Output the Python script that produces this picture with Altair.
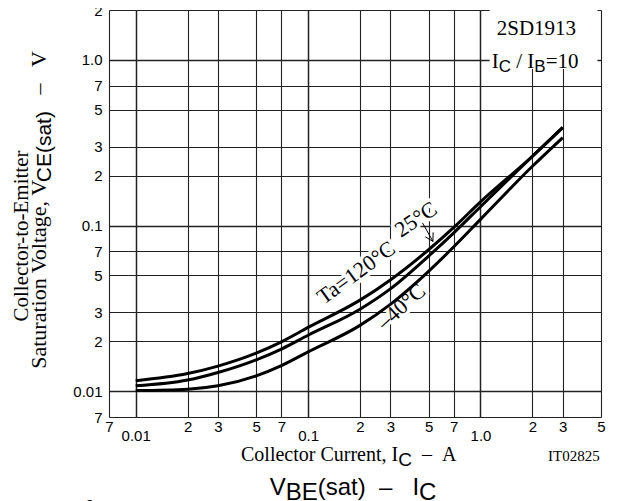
import altair as alt
import pandas as pd

# ---------------- data ----------------
IC = [0.01, 0.02, 0.03, 0.05, 0.07, 0.1, 0.2, 0.3, 0.5, 0.7, 1.0, 2.0, 3.0]
VCE_120 = [0.0116, 0.0128, 0.0142, 0.0170, 0.0199, 0.0243, 0.0355, 0.0470, 0.0715, 0.0975, 0.139, 0.262, 0.390]
VCE_25 = [0.0108, 0.0117, 0.0130, 0.0155, 0.0180, 0.0218, 0.0313, 0.0415, 0.0655, 0.0905, 0.130, 0.262, 0.392]
VCE_M40 = [0.0101, 0.0103, 0.0108, 0.0124, 0.0143, 0.0173, 0.0250, 0.0335, 0.0530, 0.0745, 0.109, 0.228, 0.340]
SERIES = ["120", "25", "-40"]

X_DOMAIN = [0.007, 5]
Y_DOMAIN = [0.007, 2]
X_TICKS = [0.007, 0.01, 0.02, 0.03, 0.05, 0.07, 0.1, 0.2, 0.3, 0.5, 0.7, 1, 2, 3, 5]
X_TICK_LABELS = ["7", "0.01", "2", "3", "5", "7", "0.1", "2", "3", "5", "7", "1.0", "2", "3", "5"]
Y_TICKS = [0.007, 0.01, 0.02, 0.03, 0.05, 0.07, 0.1, 0.2, 0.3, 0.5, 0.7, 1, 2]
Y_TICK_LABELS = ["7", "0.01", "2", "3", "5", "7", "0.1", "2", "3", "5", "7", "1.0", "2"]
DECADE_LABELS = ["0.01", "0.1", "1.0"]

CURVE_LABELS = ["Ta=120°C", "25°C", "–40°C"]
CURVE_LABEL_X = [0.190, 0.422, 0.347]
CURVE_LABEL_Y = [0.0520, 0.1090, 0.0325]
CURVE_LABEL_ANGLE = [324, 326, 318]

ARROW_SEG = ["shaft", "shaft", "b1", "b1", "b2", "b2"]
ARROW_X = [0.461, 0.530, 0.531, 0.530, 0.478, 0.530]
ARROW_Y = [0.1038, 0.0803, 0.0910, 0.0803, 0.0856, 0.0803]

BOX_X = [1.13, 4.77]
BOX_Y = [0.88, 2.0]

SANS = "Liberation Sans, Arial, Helvetica, sans-serif"
SERIF = "Liberation Serif, Times New Roman, serif"
NB = "\u00a0"

TIMES_W = {' ': 250, NB: 250, ',': 250, '-': 333, '–': 500, '/': 278, '=': 564, '(': 333,
           ')': 333, '°': 400, 'A': 722, 'B': 667, 'C': 667, 'D': 722, 'E': 611, 'I': 333,
           'S': 556, 'T': 611, 'V': 722, 'a': 444, 'c': 444, 'e': 444, 'g': 500, 'i': 278,
           'l': 278, 'm': 778, 'n': 500, 'o': 500, 'r': 333, 's': 389, 't': 278, 'u': 500}
ARIAL_W = {' ': 278, NB: 278, '–': 556, '(': 333, ')': 333, 'B': 667, 'C': 722, 'E': 667,
           'I': 278, 'V': 667, 'a': 556, 's': 500, 't': 278}


def text_width(s, font, size):
    table = TIMES_W if font == SERIF else ARIAL_W
    return sum(table.get(ch, 500) for ch in s) * size / 1000.0


def label_expr(ticks, labels, multiline):
    parts = []
    for v, lab in zip(ticks, labels):
        if multiline and lab in DECADE_LABELS:
            txt = "['', '%s']" % lab
        else:
            txt = "'%s'" % lab
        parts.append("datum.value == %r ? %s" % (v, txt))
    return " : ".join(parts) + " : ''"


GRID_W = {"condition": {"test": "datum.value == 0.01 || datum.value == 0.1 || datum.value == 1",
                        "value": 1.5}, "value": 1.1}

X_AXIS = alt.Axis(values=X_TICKS, labelExpr=label_expr(X_TICKS, X_TICK_LABELS, True), title=None,
                  grid=True, gridColor="#222222", gridWidth=GRID_W, ticks=False, domain=False,
                  labelFont=SANS, labelFontSize=15, labelColor="black", labelPadding=2,
                  labelBaseline="top", labelLineHeight=9, labelFlush=False, labelOverlap=False,
                  labelBound=False)
Y_AXIS = alt.Axis(values=Y_TICKS, labelExpr=label_expr(Y_TICKS, Y_TICK_LABELS, False), title=None,
                  grid=True, gridColor="#222222", gridWidth=GRID_W, ticks=False, domain=False,
                  labelFont=SANS, labelFontSize=15, labelColor="black", labelPadding=7,
                  labelFlush=False, labelOverlap=False, labelBound=False)
XS = alt.Scale(type="log", domain=X_DOMAIN, nice=False)
YS = alt.Scale(type="log", domain=Y_DOMAIN, nice=False)


def X(field):
    return alt.X(field, type="quantitative", scale=XS, axis=X_AXIS)


def Y(field):
    return alt.Y(field, type="quantitative", scale=YS, axis=Y_AXIS)


rows = []
for name, vals in zip(SERIES, [VCE_120, VCE_25, VCE_M40]):
    for ic, v in zip(IC, vals):
        rows.append({"IC": ic, "V": v, "series": name})
curves_df = pd.DataFrame(rows)

curves = alt.Chart(curves_df).mark_line(color="black", strokeWidth=3, interpolate="monotone").encode(
    x=X("IC"), y=Y("V"), detail="series:N")

box_df = pd.DataFrame({"IC": [BOX_X[0]], "IC2": [BOX_X[1]], "V": [BOX_Y[0]], "V2": [BOX_Y[1]]})
box = alt.Chart(box_df).mark_rect(fill="white").encode(
    x=X("IC"), x2="IC2", y=Y("V"), y2="V2")

label_df = pd.DataFrame({"IC": CURVE_LABEL_X, "V": CURVE_LABEL_Y, "t": CURVE_LABELS,
                         "a": CURVE_LABEL_ANGLE})
halo = alt.Chart(label_df).mark_text(font=SERIF, fontSize=22, align="center", baseline="middle",
                                     color="white", stroke="white", strokeWidth=7,
                                     strokeJoin="round").encode(
    x=X("IC"), y=Y("V"), text="t:N", angle=alt.Angle("a:Q", scale=None))
labels = alt.Chart(label_df).mark_text(font=SERIF, fontSize=22, align="center", baseline="middle",
                                       color="black").encode(
    x=X("IC"), y=Y("V"), text="t:N", angle=alt.Angle("a:Q", scale=None))

arrow_df = pd.DataFrame({"IC": ARROW_X, "V": ARROW_Y, "seg": ARROW_SEG})
arrow = alt.Chart(arrow_df).mark_line(color="black", strokeWidth=1).encode(
    x=X("IC"), y=Y("V"), detail="seg:N")

# ---------------- text with subscripts (pixel placement relative to plot) ----------------
PLOT_LEFT_PAGE = 109.3
PLOT_TOP_PAGE = 10.0


def txt(s, font, size, x, y, angle=0, align="left"):
    return alt.Chart(pd.DataFrame({"t": [s]})).mark_text(
        font=font, fontSize=size, align=align, baseline="alphabetic", angle=angle,
        color="black").encode(x=alt.value(x), y=alt.value(y), text="t:N")


def split_lead(s):
    body = s.lstrip(" " + NB)
    return s[:len(s) - len(body)], body


def seg_w(seg):
    s, font, size = seg[0], seg[1], seg[2]
    kern = seg[4] if len(seg) > 4 else 0
    return text_width(s, font, size) + kern


def seq_h(segments, x0, y0):
    out = []
    x = x0
    for seg in segments:
        s, font, size, shift = seg[:4]
        lead, body = split_lead(s)
        x += text_width(lead, font, size)
        out.append(txt(body, font, size, x, y0 + shift))
        x += seg_w(seg) - text_width(lead, font, size)
    return out


def seq_v(segments, x0, y0):
    out = []
    y = y0
    for seg in segments:
        s, font, size, shift = seg[:4]
        lead, body = split_lead(s)
        y -= text_width(lead, font, size)
        out.append(txt(body, font, size, x0 + shift, y, angle=270))
        y -= seg_w(seg) - text_width(lead, font, size)
    return out


def seg_width(segments):
    return sum(seg_w(seg) for seg in segments)


def px(page_x):
    return page_x - PLOT_LEFT_PAGE


def py(page_y):
    return page_y - PLOT_TOP_PAGE


texts = []
# x-axis title
xt = [("Collector Current, I", SERIF, 20, 0), ("C", SANS, 19, 5),
      (NB + NB + "–" + NB + NB + "A", SERIF, 20, 0)]
texts += seq_h(xt, px(349) - seg_width(xt) / 2, py(461))
texts.append(txt("IT02825", SERIF, 15, px(600), py(461), align="right"))
# y-axis title
texts.append(txt("Collector-to-Emitter", SERIF, 21, px(28), py(236), angle=270, align="center"))
yt = [("Saturation Voltage, V", SERIF, 22, 0, -6), ("CE(sat)", SANS, 21, 5),
      (NB + NB + NB + "–" + NB + NB + NB + "V", SERIF, 22, 0)]
texts += seq_v(yt, px(46), py(210) + seg_width(yt) / 2)
# device annotation
texts.append(txt("2SD1913", SERIF, 21, px(497), py(35)))
texts += seq_h([("I", SERIF, 21, 0), ("C", SANS, 17, 4), (NB + "/" + NB + "I", SERIF, 21, 0),
                ("B", SANS, 17, 4), ("=10", SERIF, 21, 0)], px(492), py(68))
# next chart's title and first tick label, cut by the page edge
texts += seq_h([("V", SANS, 24, 0), ("BE", SANS, 24, 5),
                ("(sat)" + NB + NB + "–" + NB + NB + NB + "I", SANS, 24, 0),
                ("C", SANS, 24, 5)], px(270), py(495))
texts.append(txt("2", SANS, 15, px(90), py(510), align="center"))

chart = alt.layer(box, halo, curves, arrow, labels, *texts).properties(
    width=492, height=407,
    padding={"left": 101, "top": 2, "right": 8, "bottom": 84},
    autosize=alt.AutoSizeParams(type="none"),
).configure_view(stroke="black", strokeWidth=1.6).configure(background="white")

chart.save("out.html", embed_options={"renderer": "svg", "actions": False})
